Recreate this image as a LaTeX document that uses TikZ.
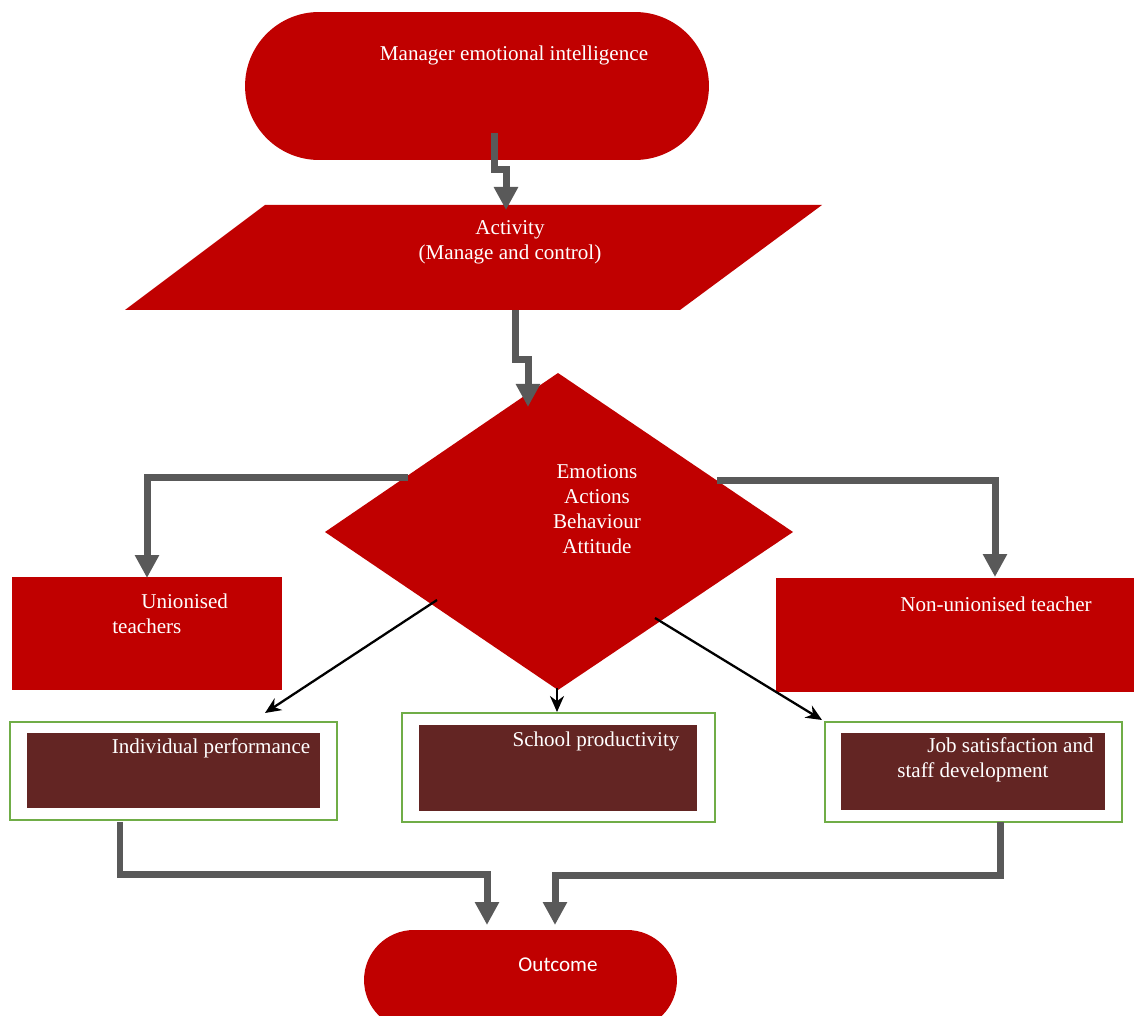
\documentclass[tikz,border=0pt]{standalone}
\usepackage{fontspec}
\setmainfont{Liberation Serif}
\newfontfamily\outfont{Carlito}
\usetikzlibrary{arrows.meta}
\definecolor{flowred}{HTML}{C00000}
\definecolor{darkred}{HTML}{632523}
\definecolor{flowgray}{HTML}{595959}
\definecolor{framegreen}{HTML}{70AD47}
\begin{document}
\begin{tikzpicture}[
        x=0.02cm, y=-0.02cm,
        txt/.style={text=white, font=\fontsize{12}{14.2}\selectfont, inner sep=0pt},
        redbox/.style={fill=flowred, inner sep=0pt},
        framebox/.style={draw=framegreen, line width=1.2pt, inner sep=0pt},
        innerbox/.style={fill=darkred, inner sep=0pt},
        bigflow/.style={draw=flowgray, line width=0.14cm, -{Triangle[width=0.46cm,length=0.46cm]}},
        thinflow/.style={draw=black, line width=1.3pt, -{Stealth[width=0.28cm,length=0.32cm]}}
      ]
      \useasboundingbox (0,0) rectangle (1134,1016);
      \clip (0,0) rectangle (1134,1016);
      \node[redbox, rounded corners=1.48cm, minimum width=9.28cm, minimum height=2.96cm] (manager) at (477,86) {};
      \node[txt] (managertext) at (514,55) {Manager emotional intelligence};
      \fill[flowred] (265,205) -- (822,205) -- (680,310) -- (125,310) -- cycle;
      \node[txt, align=center] (activity) at (510,242) {Activity\\(Manage and control)};
      \fill[flowred] (558,373) -- (793,532) -- (558,690) -- (325,532) -- cycle;
      \node[txt, align=center] (emotions) at (597,509) {Emotions\\Actions\\Behaviour\\Attitude};
      \node[redbox, minimum width=5.4cm, minimum height=2.26cm] (union) at (147,633.5) {};
      \node[txt, align=left, anchor=west] (uniontext) at (112,613.5) {\hspace{0.58cm}Unionised\\teachers};
      \node[redbox, minimum width=7.16cm, minimum height=2.28cm] (nonunion) at (955,635) {};
      \node[txt] (nonuniontext) at (996,604) {Non-unionised teacher};
      \node[framebox, minimum width=6.54cm, minimum height=1.96cm] (perfframe) at (173.5,771) {};
      \node[innerbox, minimum width=5.86cm, minimum height=1.5cm] (perf) at (173.5,770.5) {};
      \node[txt] (perftext) at (211,748) {Individual performance};
      \node[framebox, minimum width=6.26cm, minimum height=2.18cm] (prodframe) at (558.5,767.5) {};
      \node[innerbox, minimum width=5.56cm, minimum height=1.72cm] (prod) at (558,768) {};
      \node[txt] (prodtext) at (596,741) {School productivity};
      \node[framebox, minimum width=5.94cm, minimum height=2cm] (jobframe) at (973.5,772) {};
      \node[innerbox, minimum width=5.28cm, minimum height=1.54cm] (job) at (973,771.5) {};
      \node[txt, align=left, anchor=west] (jobtext) at (897,759.5) {\hspace{0.6cm}Job satisfaction and\\staff development};
      \node[redbox, rounded corners=1cm, minimum width=6.26cm, minimum height=2cm] (outcome) at (520.5,980) {};
      \node[txt, font=\outfont\fontsize{12}{14}\selectfont] (outcometext) at (558,965) {Outcome};
      \coordinate (a1) at (494,133);
      \coordinate (a2) at (506,210);
      \coordinate (b1) at (515,310);
      \coordinate (b2) at (528,407);
      \coordinate (c1) at (408,478);
      \coordinate (c2) at (147,578);
      \coordinate (d1) at (717,481);
      \coordinate (d2) at (995,577);
      \coordinate (e1) at (120,822);
      \coordinate (e2) at (487,925);
      \coordinate (f1) at (1000,822);
      \coordinate (f2) at (555,925);
      \draw[bigflow] (a1) -- (494,170) -- (506,170) -- (a2);
      \draw[bigflow] (b1) -- (515,360) -- (528,360) -- (b2);
      \draw[bigflow] (c1) -| (c2);
      \draw[bigflow] (d1) -| (d2);
      \draw[bigflow] (e1) -- (120,875) -| (e2);
      \draw[bigflow] (f1) -- (1000,876) -| (f2);
      \coordinate (g1) at (437,600);
      \coordinate (g2) at (265,713);
      \coordinate (h1) at (557,688);
      \coordinate (h2) at (557,712);
      \coordinate (i1) at (655,618);
      \coordinate (i2) at (822,720);
      \draw[thinflow] (g1) -- (g2);
      \draw[thinflow] (h1) -- (h2);
      \draw[thinflow] (i1) -- (i2);
    \end{tikzpicture}
\end{document}
